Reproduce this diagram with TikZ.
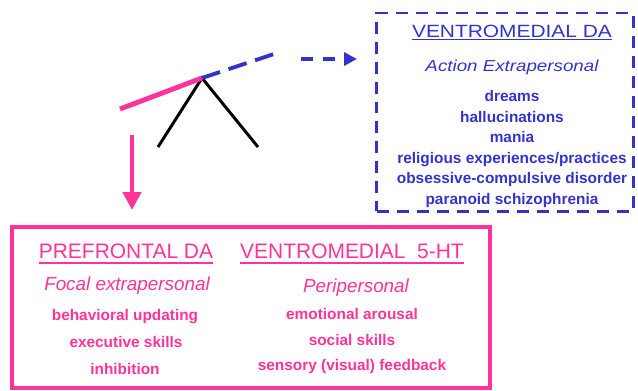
\documentclass[tikz,border=0pt]{standalone}
\usepackage{fontspec}
\setmainfont{Liberation Sans}
\newfontfamily\widesans[FakeStretch=1.18]{Liberation Sans}
\usepackage{xcolor}
\usepackage{tikz}
\usetikzlibrary{arrows.meta}
\definecolor{dapink}{RGB}{255,51,153}
\definecolor{dablue}{RGB}{51,51,204}
\tikzset{
  pinkbox/.style={draw=dapink, line width=2.8pt, rectangle, minimum width=11.95cm, minimum height=4.025cm},
  bluebox/.style={draw=dablue, line width=2.1pt, dash pattern=on 8.5pt off 5.7pt, rectangle, minimum width=6.4cm, minimum height=4.95cm},
  bluetitle/.style={anchor=base, inner sep=0pt, text=dablue, font=\widesans\fontsize{12.6pt}{15pt}\selectfont},
  blueaspect/.style={anchor=base, inner sep=0pt, text=dablue, font=\widesans\itshape\fontsize{11.3pt}{14pt}\selectfont},
  blueitem/.style={anchor=base, inner sep=0pt, text=dablue, font=\bfseries\fontsize{10.95pt}{13pt}\selectfont},
  pinktitle/.style={anchor=base, inner sep=0pt, text=dapink, font=\fontsize{14.9pt}{18pt}\selectfont},
  pinkaspect/.style={anchor=base, inner sep=0pt, text=dapink, font=\itshape\fontsize{13.4pt}{16pt}\selectfont},
  pinkitem/.style={anchor=base, inner sep=0pt, text=dapink, font=\bfseries\fontsize{10.95pt}{13pt}\selectfont},
  leverarm/.style={line width=2.1pt, black},
  leverpink/.style={line width=3.5pt, dapink},
  pinkarrow/.style={line width=3.5pt, dapink, -{Triangle[width=12.8pt, length=12.8pt]}},
  bluerise/.style={line width=2.8pt, dablue, dash pattern=on 13.5pt off 6.4pt},
  bluearrow/.style={line width=2.5pt, dablue, dash pattern=on 8.5pt off 7.1pt, -{Triangle[width=9.2pt, length=9.2pt]}}
}
\begin{document}
\begin{tikzpicture}[x=0.025cm, y=-0.025cm]%
\useasboundingbox (0,0) rectangle (638,390);%
\coordinate (apex) at (202,78);%
\coordinate (lfoot) at (158,147);%
\coordinate (rfoot) at (258,147);%
\coordinate (lend) at (120,109);%
\coordinate (pstart) at (132,135);%
\coordinate (pend) at (132,210);%
\coordinate (vrise) at (277,53);%
\coordinate (vstart) at (301,59);%
\coordinate (vend) at (357,59);%
\node[bluebox] (vbox) at (505,112) {};%
\node[pinkbox] (pbox) at (251,307.5) {};%
\draw[leverarm] (lfoot) -- (apex) -- (rfoot);%
\draw[leverpink] (lend) -- (apex);%
\draw[bluerise] (apex) -- (vrise);%
\draw[bluearrow] (vstart) -- (vend);%
\draw[pinkarrow] (pstart) -- (pend);%
\node[bluetitle] (vtitle) at (512,37) {VENTROMEDIAL DA};%
\draw[dablue, line width=1pt] ([yshift=-1.6pt]vtitle.base west) -- ([yshift=-1.6pt]vtitle.base east);%
\node[blueaspect] (vaspect) at (512,71.5) {Action Extrapersonal};%
\node[blueitem] (vitema) at (512,101.5) {dreams};%
\node[blueitem] (vitemb) at (512,122) {hallucinations};%
\node[blueitem] (vitemc) at (512,142.5) {mania};%
\node[blueitem] (vitemd) at (512,163) {religious experiences/practices};%
\node[blueitem] (viteme) at (512,183.5) {obsessive-compulsive disorder};%
\node[blueitem] (vitemf) at (512,204) {paranoid schizophrenia};%
\node[pinktitle] (ptitle) at (126,258.3) {PREFRONTAL DA};%
\draw[dapink, line width=1.4pt] ([yshift=-3.1pt]ptitle.base west) -- ([yshift=-3.1pt]ptitle.base east);%
\node[pinktitle] (stitle) at (352,258.3) {VENTROMEDIAL\ \ 5-HT};%
\draw[dapink, line width=1.4pt] ([yshift=-3.1pt]stitle.base west) -- ([yshift=-3.1pt]stitle.base east);%
\node[pinkaspect] (paspect) at (127,290) {Focal extrapersonal};%
\node[pinkaspect] (saspect) at (356,292.7) {Peripersonal};%
\node[pinkitem] (pitema) at (125,320) {behavioral updating};%
\node[pinkitem] (pitemb) at (126,347) {executive skills};%
\node[pinkitem] (pitemc) at (125,374) {inhibition};%
\node[pinkitem] (sitema) at (352,319.5) {emotional arousal};%
\node[pinkitem] (sitemb) at (352,345) {social skills};%
\node[pinkitem] (sitemc) at (352,370.5) {sensory (visual) feedback};%
\end{tikzpicture}
\end{document}
